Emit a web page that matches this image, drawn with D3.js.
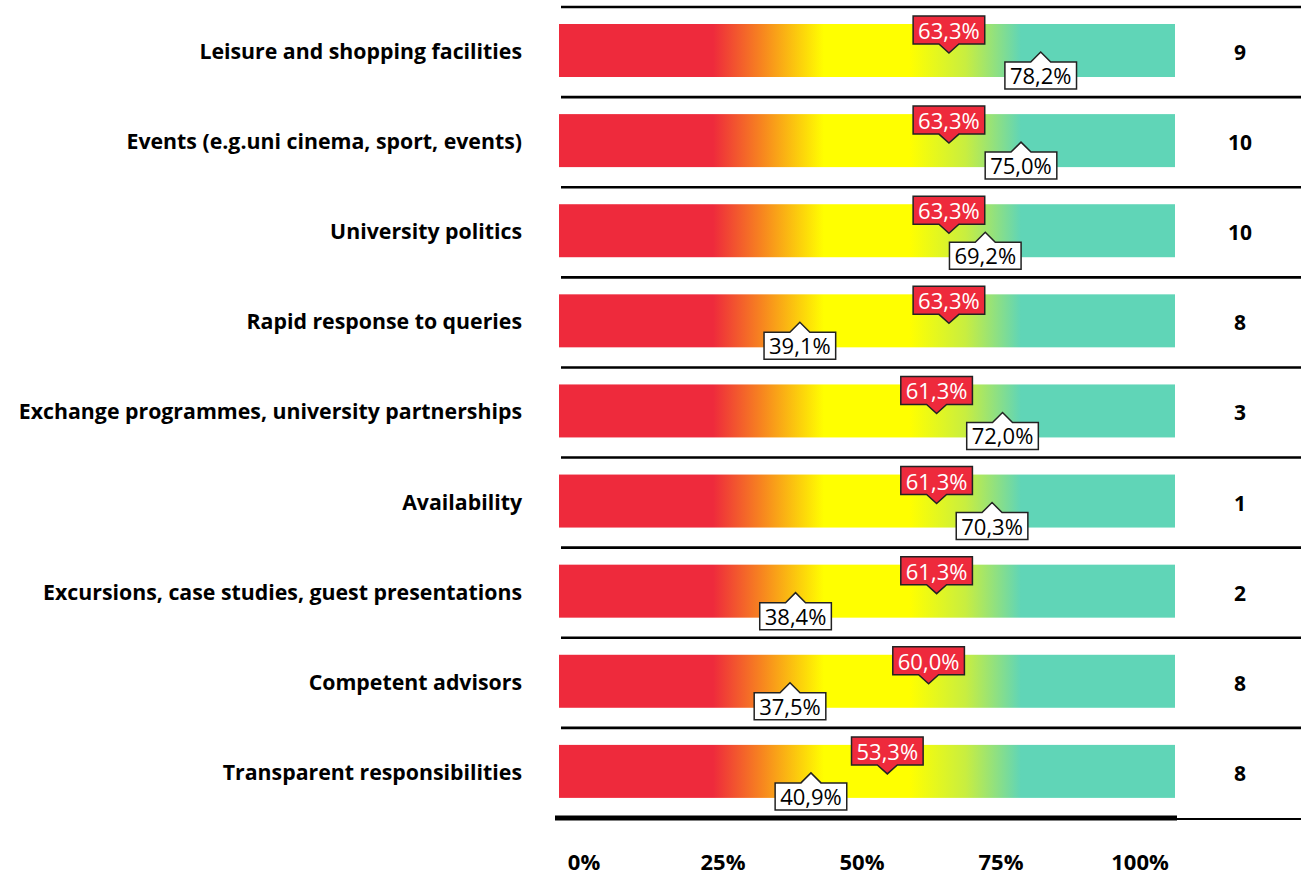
<!DOCTYPE html>
<html><head><meta charset="utf-8">
<script src="https://cdn.jsdelivr.net/npm/d3@7"></script>
<style>body{margin:0;background:#fff}svg{display:block}</style>
</head><body><div id="chart"></div>
<script>
const categories = [
  "Leisure and shopping facilities",
  "Events (e.g.uni cinema, sport, events)",
  "University politics",
  "Rapid response to queries",
  "Exchange programmes, university partnerships",
  "Availability",
  "Excursions, case studies, guest presentations",
  "Competent advisors",
  "Transparent responsibilities"
];
const benchmarkValues = [63.3, 63.3, 63.3, 63.3, 61.3, 61.3, 61.3, 60.0, 53.3];
const ownValues       = [78.2, 75.0, 69.2, 39.1, 72.0, 70.3, 38.4, 37.5, 40.9];
const counts          = [9, 10, 10, 8, 3, 1, 2, 8, 8];
const tickLabels      = [0, 25, 50, 75, 100];

const W = 1301, H = 881;
const svg = d3.select("#chart").append("svg").attr("width", W).attr("height", H);
const font = "'Open Sans', 'Noto Sans', sans-serif";

const x = d3.scaleLinear().domain([0, 100]).range([559, 1175]);
const y = d3.scaleBand().domain(d3.range(categories.length)).range([7, 818]).paddingInner(0).paddingOuter(0);

// gradient
const defs = svg.append("defs");
const grad = defs.append("linearGradient").attr("id", "g").attr("gradientUnits", "userSpaceOnUse")
  .attr("x1", x(0)).attr("x2", x(100)).attr("y1", 0).attr("y2", 0);
[[0, "#EE2A3C"], [0.25, "#EE2A3C"], [0.33, "#F7861F"], [0.43, "#FFFF00"], [0.57, "#FFFF00"],
 [0.66, "#C8EE40"], [0.75, "#60D5B7"], [1, "#60D5B7"]].forEach(([o, c]) =>
  grad.append("stop").attr("offset", o).attr("stop-color", c));

// separators
svg.append("g").selectAll("line").data(d3.range(categories.length)).join("line")
  .attr("x1", 561).attr("x2", W).attr("y1", i => y(i)).attr("y2", i => y(i))
  .attr("stroke", "#000").attr("stroke-width", 2.6);
// bottom line
svg.append("line").attr("x1", 555).attr("x2", 1177).attr("y1", 818).attr("y2", 818)
  .attr("stroke", "#000").attr("stroke-width", 5);
svg.append("line").attr("x1", 1177).attr("x2", W).attr("y1", 819).attr("y2", 819)
  .attr("stroke", "#000").attr("stroke-width", 2);

// bars
const rows = svg.append("g").selectAll("g").data(categories).join("g")
  .attr("transform", (d, i) => `translate(0,${y(i)})`);
rows.append("rect").attr("x", x(0)).attr("width", x(100) - x(0)).attr("y", 17).attr("height", 53)
  .attr("fill", "url(#g)");

// category labels
rows.append("text").attr("x", 522).attr("y", 52).attr("text-anchor", "end")
  .attr("font-family", font).attr("font-weight", "bold").attr("font-size", 21.3).attr("fill", "#000")
  .text(d => d);

// counts
rows.append("text").attr("x", 1240).attr("y", 53).attr("text-anchor", "middle")
  .attr("font-family", font).attr("font-weight", "bold").attr("font-size", 21).attr("fill", "#000")
  .text((d, i) => counts[i]);

const fmt = v => d3.format(".1f")(v).replace(".", ",") + "%";

function callout(g, cx, tipY, boxTop, boxBot, up) {
  const t = g.select("text");
  const w = t.node().getComputedTextLength() + 10;
  const l = cx - w / 2, r = cx + w / 2, pw = 10;
  let p;
  if (up) {
    p = `M${l},${boxTop}L${cx - pw},${boxTop}L${cx},${tipY}L${cx + pw},${boxTop}L${r},${boxTop}L${r},${boxBot}L${l},${boxBot}Z`;
  } else {
    p = `M${l},${boxTop}L${r},${boxTop}L${r},${boxBot}L${cx + pw},${boxBot}L${cx},${tipY}L${cx - pw},${boxBot}L${l},${boxBot}Z`;
  }
  g.insert("path", "text").attr("d", p);
}

rows.each(function(d, i) {
  const row = d3.select(this);
  const cx = x(benchmarkValues[i]);
  const g = row.append("g");
  g.append("text").attr("x", cx).attr("y", 32).attr("text-anchor", "middle")
    .attr("font-family", font).attr("font-size", 22).attr("fill", "#fff").text(fmt(benchmarkValues[i]));
  callout(g, cx, 46, 9, 37, false);
  g.select("path").attr("fill", "#EE2A3C").attr("stroke", "#222").attr("stroke-width", 1.5);

  const cx2 = x(ownValues[i]);
  const g2 = row.append("g");
  g2.append("text").attr("x", cx2).attr("y", 77).attr("text-anchor", "middle")
    .attr("font-family", font).attr("font-size", 22).attr("fill", "#000").text(fmt(ownValues[i]));
  callout(g2, cx2, 45, 55, 82, true);
  g2.select("path").attr("fill", "#fff").attr("stroke", "#222").attr("stroke-width", 1.5);
});

// axis tick labels
const xt = d3.scaleLinear().domain([0, 100]).range([584, 1140]);
svg.append("g").selectAll("text").data(tickLabels).join("text")
  .attr("x", d => xt(d)).attr("y", 870).attr("text-anchor", "middle")
  .attr("font-family", font).attr("font-weight", "bold").attr("font-size", 22).attr("fill", "#000")
  .text(d => d + "%");
</script></body></html>
